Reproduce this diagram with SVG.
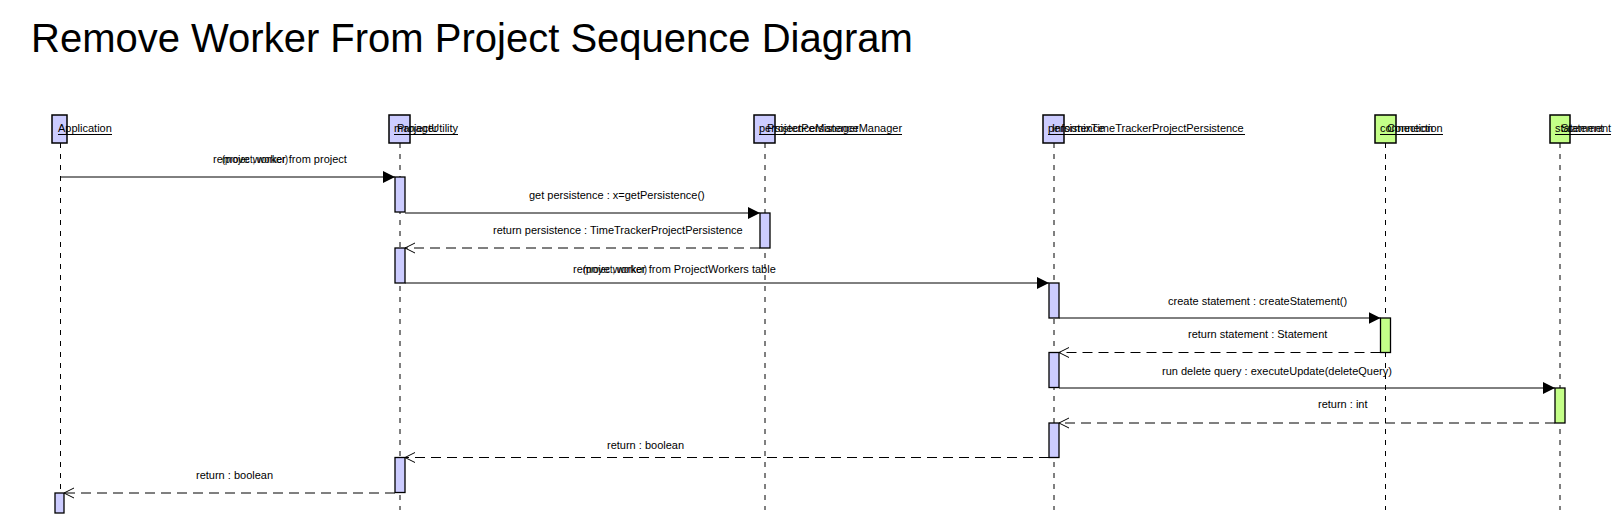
<svg xmlns="http://www.w3.org/2000/svg" width="1620" height="524" viewBox="0 0 1620 524">
<style>
.t{font-family:"Liberation Sans",Arial,sans-serif;font-size:11px;fill:#000}
.title{font-size:40px}
.head{stroke:#000;stroke-width:1.5}
.act{stroke:#000;stroke-width:1.3}
.blue{fill:#CCCCFF}
.green{fill:#C4FF88}
.life{stroke:#000;stroke-width:1;stroke-dasharray:5,6;fill:none}
.msg{stroke:#000;stroke-width:1;fill:none}
.ret{stroke-dasharray:10,6}
.ul{stroke:#000;stroke-width:1}
</style>
<defs>
<marker id="solid" markerUnits="userSpaceOnUse" markerWidth="12" markerHeight="12" refX="12" refY="6" orient="auto">
<path d="M0,0 L12,6 L0,12 z" fill="#000" stroke="none"/>
</marker>
<marker id="open" markerUnits="userSpaceOnUse" markerWidth="12" markerHeight="12" refX="11" refY="6" orient="auto">
<path d="M1,1 L11,6 L1,11" fill="none" stroke="#000" stroke-width="1" stroke-dasharray="none"/>
</marker>
</defs>
<rect width="1620" height="524" fill="#fff"/>
<text class="t title" x="31" y="51.5">Remove Worker From Project Sequence Diagram</text>

<g id="application">
<line class="life" x1="60.5" y1="143" x2="60.5" y2="510"/>
<rect class="head blue" x="52" y="115" width="15" height="28"/>
<text class="t" x="58" y="132">Application</text>
<line class="ul" x1="58" y1="134.5" x2="112" y2="134.5"/>
<rect class="act blue" x="55" y="493" width="9" height="20"/>
</g>

<g id="manager">
<line class="life" x1="400" y1="143" x2="400" y2="510"/>
<rect class="head blue" x="389" y="115" width="21" height="28"/>
<text class="t" x="394" y="132">manager</text>
<text class="t" x="397" y="132">ProjectUtility</text>
<line class="ul" x1="394" y1="134.5" x2="458" y2="134.5"/>
<rect class="act blue" x="395" y="177" width="10" height="35"/>
<rect class="act blue" x="395" y="248" width="10" height="35"/>
<rect class="act blue" x="395" y="457.5" width="10" height="35"/>
</g>

<g id="persistenceManager">
<line class="life" x1="765" y1="143" x2="765" y2="510"/>
<rect class="head blue" x="754" y="115" width="21" height="28"/>
<text class="t" x="759" y="132">persistenceManager</text>
<text class="t" x="767" y="132">ProjectPersistenceManager</text>
<line class="ul" x1="759" y1="134.5" x2="902" y2="134.5"/>
<rect class="act blue" x="760" y="213" width="10" height="35"/>
</g>

<g id="persistence">
<line class="life" x1="1054" y1="143" x2="1054" y2="510"/>
<rect class="head blue" x="1043" y="115" width="21" height="28"/>
<text class="t" x="1048" y="132">persistence</text>
<text class="t" x="1052" y="132">InformixTimeTrackerProjectPersistence</text>
<line class="ul" x1="1048" y1="134.5" x2="1245" y2="134.5"/>
<rect class="act blue" x="1049" y="283" width="10" height="35"/>
<rect class="act blue" x="1049" y="352.5" width="10" height="35"/>
<rect class="act blue" x="1049" y="423" width="10" height="34.5"/>
</g>

<g id="connection">
<line class="life" x1="1385.5" y1="143" x2="1385.5" y2="510"/>
<rect class="head green" x="1375" y="115" width="21" height="28"/>
<text class="t" x="1380" y="132">connection</text>
<text class="t" x="1387" y="132">Connection</text>
<line class="ul" x1="1380" y1="134.5" x2="1443" y2="134.5"/>
<rect class="act green" x="1380.5" y="318" width="10" height="34.5"/>
</g>

<g id="statement">
<line class="life" x1="1560" y1="143" x2="1560" y2="510"/>
<rect class="head green" x="1550" y="115" width="20" height="28"/>
<text class="t" x="1555" y="132">statement</text>
<text class="t" x="1561" y="132">Statement</text>
<line class="ul" x1="1555" y1="134.5" x2="1611" y2="134.5"/>
<rect class="act green" x="1555" y="388" width="10" height="35"/>
</g>

<g id="connectors">
<line class="msg" x1="60.5" y1="177" x2="395" y2="177" marker-end="url(#solid)"/>
<text class="t" x="213" y="163">remove worker from project</text>
<text class="t" x="222" y="163" textLength="66" lengthAdjust="spacingAndGlyphs">(project, worker)</text>

<line class="msg" x1="405" y1="213" x2="760" y2="213" marker-end="url(#solid)"/>
<text class="t" x="529" y="199">get persistence : x=getPersistence()</text>

<line class="msg ret" x1="760" y1="248" x2="405" y2="248" marker-end="url(#open)"/>
<text class="t" x="493" y="234">return persistence : TimeTrackerProjectPersistence</text>

<line class="msg" x1="405" y1="283" x2="1049" y2="283" marker-end="url(#solid)"/>
<text class="t" x="573" y="273">remove worker from ProjectWorkers table</text>
<text class="t" x="583" y="273" textLength="64" lengthAdjust="spacingAndGlyphs">(project, worker)</text>

<line class="msg" x1="1059" y1="318" x2="1380.5" y2="318" marker-end="url(#solid)"/>
<text class="t" x="1168" y="305">create statement : createStatement()</text>

<line class="msg ret" x1="1380.5" y1="352.5" x2="1059" y2="352.5" marker-end="url(#open)"/>
<text class="t" x="1188" y="338">return statement : Statement</text>

<line class="msg" x1="1059" y1="388" x2="1555" y2="388" marker-end="url(#solid)"/>
<text class="t" x="1162" y="375">run delete query : executeUpdate(deleteQuery)</text>

<line class="msg ret" x1="1555" y1="423" x2="1059" y2="423" marker-end="url(#open)"/>
<text class="t" x="1318" y="408">return : int</text>

<line class="msg ret" x1="1049" y1="457.5" x2="405" y2="457.5" marker-end="url(#open)"/>
<text class="t" x="607" y="449">return : boolean</text>

<line class="msg ret" x1="395" y1="493" x2="64" y2="493" marker-end="url(#open)"/>
<text class="t" x="196" y="479">return : boolean</text>
</g>
</svg>
